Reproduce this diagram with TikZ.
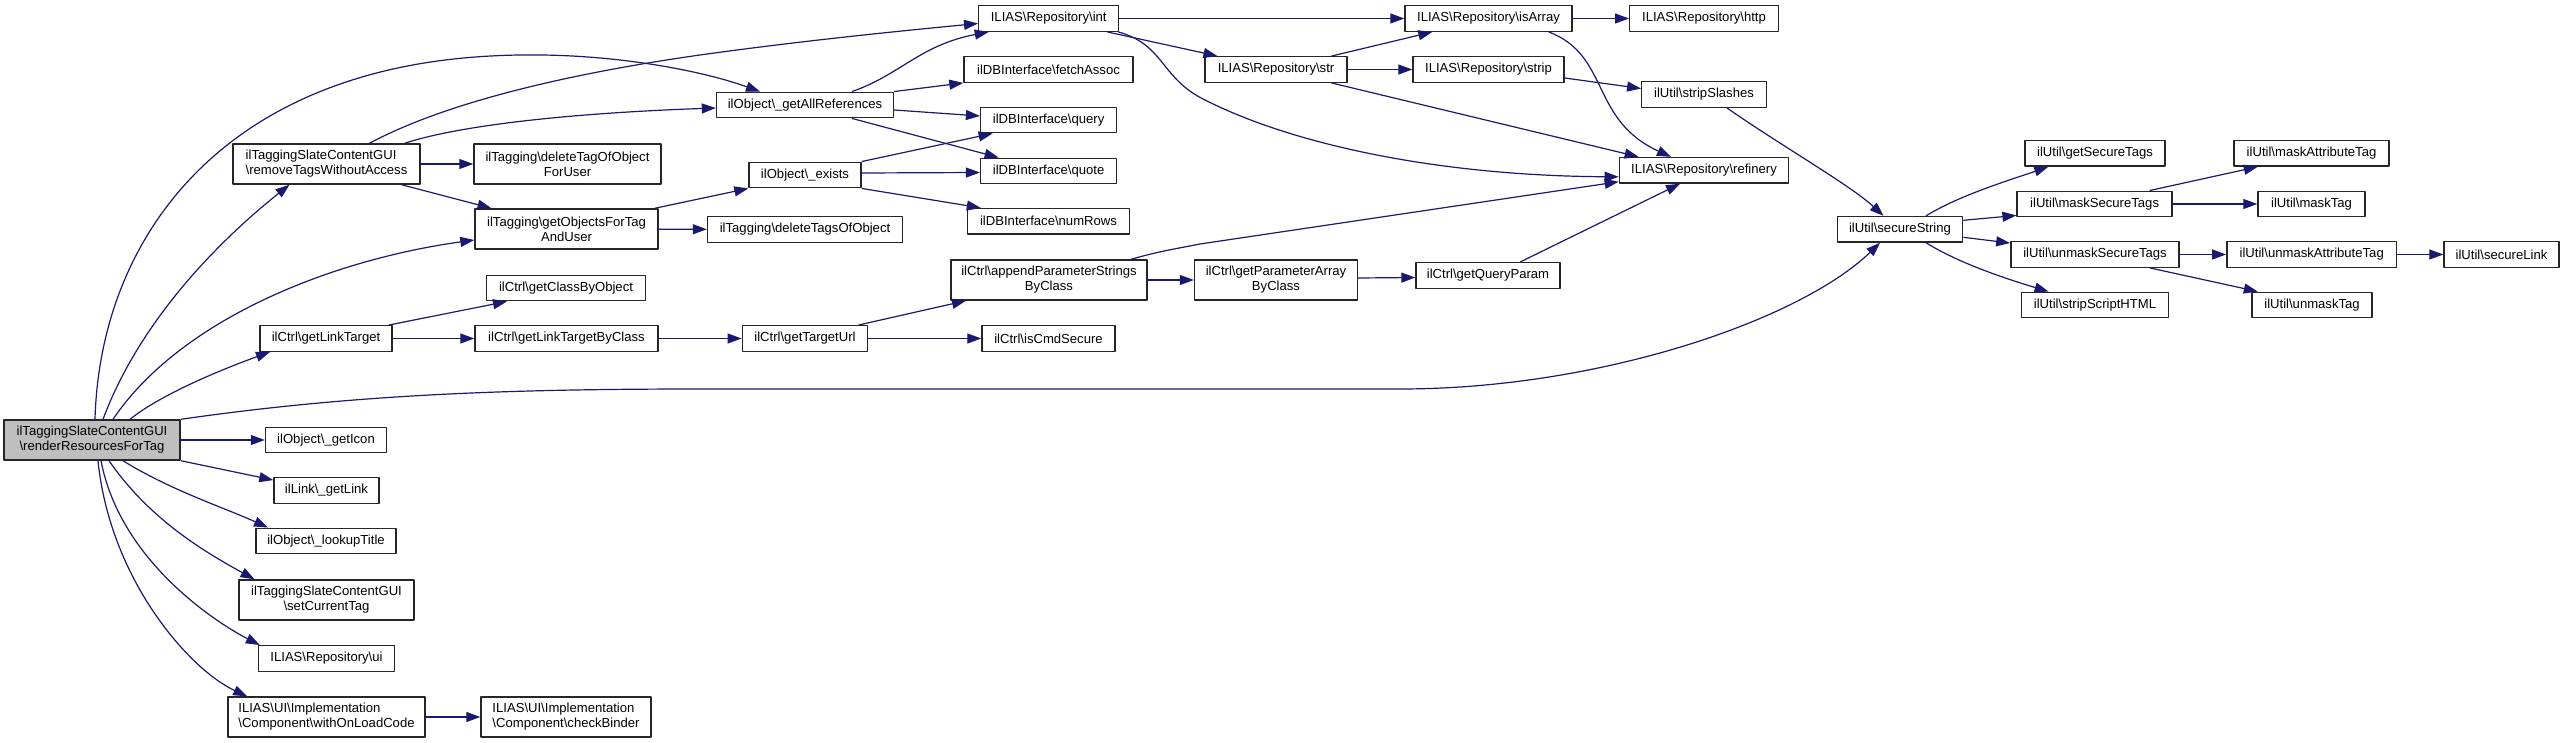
\documentclass[tikz,border=0pt]{standalone}
\usepackage{fontspec}
\setmainfont{Liberation Sans}
\usetikzlibrary{arrows.meta}
\definecolor{edgeblue}{RGB}{25,25,112}
\definecolor{rootgrey}{RGB}{191,191,191}
\newcommand*{\bks}{\textbackslash}
\begin{document}
\begin{tikzpicture}[x=1pt,y=-1pt,line join=round,
	fn/.style={draw=black!85,line width=1.4pt,fill=white,inner sep=0pt,minimum height=25.5pt,align=center,font=\fontsize{13.1}{15}\selectfont},
	tall/.style={minimum height=40pt},
	call/.style={draw=edgeblue,line width=1.2pt,-{Triangle[length=14pt,width=10pt]}}]
	\useasboundingbox (0,0) rectangle (2564,743);
	\node[fn,tall,fill=rootgrey,minimum width=176] (root) at (92,440) {ilTaggingSlateContentGUI\\\bks renderResourcesForTag};
	\node[fn,tall,align=left,minimum width=187] (rmv) at (326.5,164) {ilTaggingSlateContentGUI\\\bks removeTagsWithoutAccess};
	\node[fn,tall,minimum width=187] (delTag) at (567.5,164) {ilTagging\bks deleteTagOfObject\\ForUser};
	\node[fn,tall,minimum width=183] (getObj) at (566.5,229) {ilTagging\bks getObjectsForTag\\AndUser};
	\node[fn,minimum width=159] (clsObj) at (566,288) {ilCtrl\bks getClassByObject};
	\node[fn,minimum width=132] (lnkT) at (326,338.5) {ilCtrl\bks getLinkTarget};
	\node[fn,minimum width=183] (lnkTC) at (566.5,338.5) {ilCtrl\bks getLinkTargetByClass};
	\node[fn,minimum width=121] (icon) at (326,440) {ilObject\bks\_getIcon};
	\node[fn,minimum width=105] (link) at (326.5,490.5) {ilLink\bks\_getLink};
	\node[fn,minimum width=140] (title) at (326,541) {ilObject\bks\_lookupTitle};
	\node[fn,tall,minimum width=175] (curTag) at (326.5,600) {ilTaggingSlateContentGUI\\\bks setCurrentTag};
	\node[fn,minimum width=136] (repUi) at (326.5,658.5) {ILIAS\bks Repository\bks ui};
	\node[fn,tall,align=left,minimum width=197] (onLoad) at (326.5,717) {ILIAS\bks UI\bks Implementation\\\bks Component\bks withOnLoadCode};
	\node[fn,tall,align=left,minimum width=170] (binder) at (566,717) {ILIAS\bks UI\bks Implementation\\\bks Component\bks checkBinder};
	\node[fn,minimum width=177] (allRef) at (805,105) {ilObject\bks\_getAllReferences};
	\node[fn,minimum width=112] (exists) at (805,175) {ilObject\bks\_exists};
	\node[fn,minimum width=195] (delTags) at (805,229.5) {ilTagging\bks deleteTagsOfObject};
	\node[fn,minimum width=125.5] (tgtUrl) at (805,338.5) {ilCtrl\bks getTargetUrl};
	\node[fn,minimum width=140] (repInt) at (1048.7,18.5) {ILIAS\bks Repository\bks int};
	\node[fn,minimum width=169] (fetch) at (1048.5,69.5) {ilDBInterface\bks fetchAssoc};
	\node[fn,minimum width=136] (query) at (1048.6,120) {ilDBInterface\bks query};
	\node[fn,minimum width=136] (quote) at (1048.6,171) {ilDBInterface\bks quote};
	\node[fn,minimum width=162] (numRows) at (1048.5,221.3) {ilDBInterface\bks numRows};
	\node[fn,tall,minimum width=196] (appStr) at (1049,280) {ilCtrl\bks appendParameterStrings\\ByClass};
	\node[fn,minimum width=133] (cmdSec) at (1048.5,338.5) {ilCtrl\bks isCmdSecure};
	\node[fn,minimum width=141.7] (repStr) at (1276,69.5) {ILIAS\bks Repository\bks str};
	\node[fn,tall,minimum width=163] (parArr) at (1276,280) {ilCtrl\bks getParameterArray\\ByClass};
	\node[fn,minimum width=167] (isArr) at (1488.5,18.5) {ILIAS\bks Repository\bks isArray};
	\node[fn,minimum width=151] (strip) at (1488.5,69.5) {ILIAS\bks Repository\bks strip};
	\node[fn,minimum width=144] (qParam) at (1488,275.5) {ilCtrl\bks getQueryParam};
	\node[fn,minimum width=148.6] (http) at (1704,18.5) {ILIAS\bks Repository\bks http};
	\node[fn,minimum width=124.5] (slash) at (1704,94.5) {ilUtil\bks stripSlashes};
	\node[fn,minimum width=169.3] (refin) at (1704,170.3) {ILIAS\bks Repository\bks refinery};
	\node[fn,minimum width=125.4] (secStr) at (1900,229.3) {ilUtil\bks secureString};
	\node[fn,minimum width=140] (secTags) at (2095,153.3) {ilUtil\bks getSecureTags};
	\node[fn,minimum width=155] (maskST) at (2094.6,204) {ilUtil\bks maskSecureTags};
	\node[fn,minimum width=168.3] (unmaskST) at (2095,254.5) {ilUtil\bks unmaskSecureTags};
	\node[fn,minimum width=146.5] (stripHTML) at (2095,305) {ilUtil\bks stripScriptHTML};
	\node[fn,minimum width=155] (maskAttr) at (2311.5,153.3) {ilUtil\bks maskAttributeTag};
	\node[fn,minimum width=107] (maskTag) at (2311.5,204) {ilUtil\bks maskTag};
	\node[fn,minimum width=169.8] (unmaskAttr) at (2311.7,254.5) {ilUtil\bks unmaskAttributeTag};
	\node[fn,minimum width=120] (unmaskTag) at (2312,305) {ilUtil\bks unmaskTag};
	\node[fn,minimum width=115] (secLink) at (2501.5,254.5) {ilUtil\bks secureLink};
	\draw[call] ([xshift=3]root.north) .. controls (100,240) and (220,70) .. (491,56) .. controls (600,50) and (700,70) .. ([xshift=-45]allRef.north);
	\draw[call] ([xshift=11]root.north) .. controls (140,320) and (220,240) .. ([xshift=-37]rmv.south);
	\draw[call] ([xshift=21]root.north) .. controls (180,320) and (330,260) .. ([yshift=-11]getObj.west);
	\draw[call] ([xshift=38]root.north) .. controls (160,395) and (220,370) .. ([xshift=-56]lnkT.south);
	\draw[call] (root.north east) .. controls (350,395) and (500,389) .. (700,389) -- (1400,389) .. controls (1600,389) and (1800,320) .. ([xshift=-20]secStr.south);
	\draw[call] (root) -- (icon);
	\draw[call] (root.south east) -- ([yshift=-3]link.north west);
	\draw[call] ([xshift=31]root.south) .. controls (170,490) and (225,508) .. ([xshift=-58]title.north);
	\draw[call] ([xshift=17]root.south) .. controls (150,520) and (205,552) .. ([xshift=-72]curTag.north);
	\draw[call] ([xshift=9]root.south) .. controls (120,560) and (215,622) .. ([xshift=2]repUi.north west);
	\draw[call] ([xshift=6]root.south) .. controls (110,580) and (190,670) .. ([xshift=20]onLoad.north west);
	\draw[call] ([xshift=43]rmv.north) .. controls (450,100) and (580,72) .. (700,55) .. controls (800,41) and (900,31) .. ([yshift=-5]repInt.west);
	\draw[call] ([xshift=78]rmv.north) .. controls (470,122) and (600,112) .. ([yshift=-3]allRef.west);
	\draw[call] (rmv) -- (delTag);
	\draw[call] ([xshift=75]rmv.south) -- ([xshift=-75]getObj.north);
	\draw[call] ([xshift=-4]getObj.north east) -- (exists.south west);
	\draw[call] (getObj) -- (delTags);
	\draw[call] ([xshift=47]allRef.north) .. controls (900,75) and (920,45) .. ([xshift=-60]repInt.south);
	\draw[call] (allRef.north east) -- (fetch.south west);
	\draw[call] ([yshift=-5]allRef.east) -- ([yshift=4]query.west);
	\draw[call] ([xshift=47]allRef.south) -- ([xshift=-50]quote.north);
	\draw[call] (exists.north east) -- ([xshift=-56]query.south);
	\draw[call] ([yshift=2]exists.east) -- ([yshift=-1.5]quote.west);
	\draw[call] (exists.south east) -- ([xshift=14]numRows.north west);
	\draw[call] ([xshift=-4]lnkT.north east) -- ([xshift=-59]clsObj.south);
	\draw[call] (lnkT) -- (lnkTC);
	\draw[call] (lnkTC) -- (tgtUrl);
	\draw[call] ([xshift=-10]tgtUrl.north east) -- ([xshift=-83]appStr.south);
	\draw[call] (tgtUrl) -- (cmdSec);
	\draw[call] ([xshift=82]appStr.north) .. controls (1160,251) and (1175,249) .. (1200,244) -- ([yshift=2]refin.south west);
	\draw[call] (appStr) -- (parArr);
	\draw[call] ([yshift=2]parArr.east) -- ([yshift=-2]qParam.west);
	\draw[call] ([xshift=32]qParam.north) -- ([xshift=-24]refin.south);
	\draw[call] (repInt) -- (isArr);
	\draw[call] ([xshift=-12]repInt.south east) -- ([xshift=13]repStr.north west);
	\draw[call] ([xshift=-1]repInt.south east) .. controls (1165,45) and (1160,78) .. (1205,100) .. controls (1300,148) and (1450,176) .. ([yshift=-6.5]refin.west);
	\draw[call] ([xshift=-16]repStr.north east) -- ([xshift=28]isArr.south west);
	\draw[call] (repStr) -- (strip);
	\draw[call] ([xshift=-16]repStr.south east) -- ([xshift=20]refin.north west);
	\draw[call] (isArr) -- (http);
	\draw[call] ([xshift=-24]isArr.south east) .. controls (1610,55) and (1590,120) .. ([xshift=-33]refin.north);
	\draw[call] ([yshift=-8.5]strip.east) -- ([yshift=6]slash.west);
	\draw[call] ([xshift=23]slash.south) .. controls (1780,145) and (1850,185) .. ([xshift=-16.5]secStr.north);
	\draw[call] ([xshift=26]secStr.north) .. controls (1960,195) and (2010,180) .. ([xshift=24]secTags.south west);
	\draw[call] ([yshift=9]secStr.east) -- ([yshift=2]maskST.south west);
	\draw[call] ([yshift=-8]secStr.east) -- ([yshift=-2]unmaskST.north west);
	\draw[call] ([xshift=26]secStr.south) .. controls (1960,264) and (2010,280) .. ([xshift=27.5]stripHTML.north west);
	\draw[call] ([xshift=55]maskST.north) -- ([xshift=24.5]maskAttr.south west);
	\draw[call] (maskST) -- (maskTag);
	\draw[call] (unmaskST) -- (unmaskAttr);
	\draw[call] ([xshift=55]unmaskST.south) -- ([xshift=6.5]unmaskTag.north west);
	\draw[call] (unmaskAttr) -- (secLink);
	\draw[call] (onLoad) -- (binder);
\end{tikzpicture}
\end{document}
